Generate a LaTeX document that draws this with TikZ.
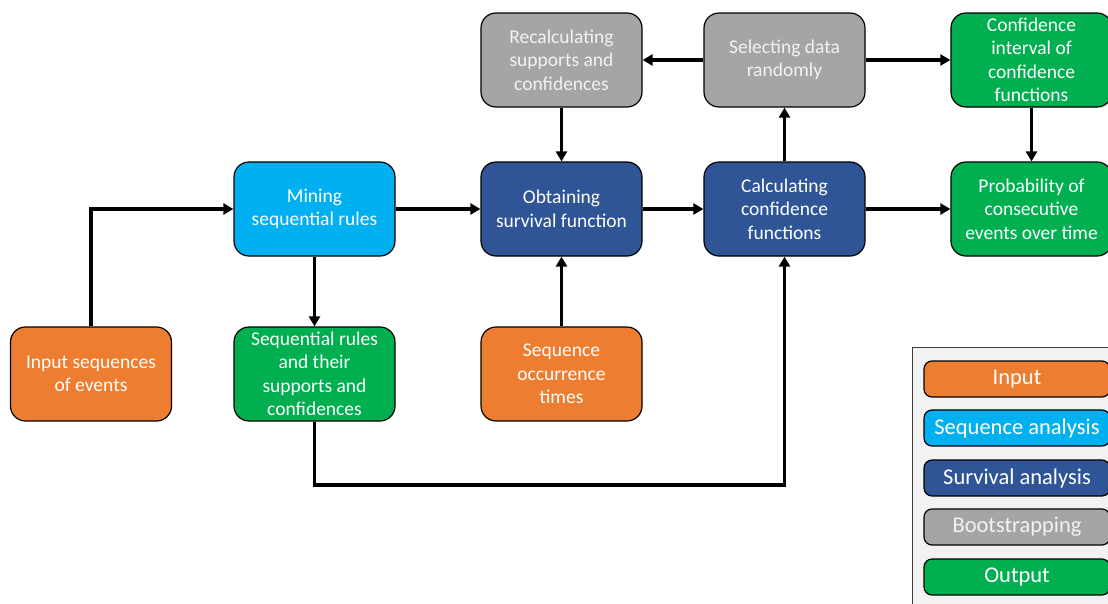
\documentclass[tikz,border=0pt]{standalone}
\usepackage{fontspec}
\setmainfont{Carlito}
\usetikzlibrary{arrows.meta}
\definecolor{cinput}{HTML}{ED7D31}
\definecolor{cseq}{HTML}{00B0F0}
\definecolor{csurv}{HTML}{2F5597}
\definecolor{cboot}{HTML}{A5A5A5}
\definecolor{cout}{HTML}{00B050}
\definecolor{clegend}{HTML}{F2F2F2}
\tikzset{
  box/.style={draw=black, line width=1.2pt, rounded corners=15pt,
    minimum width=161pt, minimum height=94pt, inner sep=0pt,
    text=white, align=center, font=\fontsize{19.5}{23.5}\selectfont},
  legbox/.style={draw=black, line width=1.2pt, rounded corners=8pt,
    minimum width=186pt, minimum height=36pt, inner sep=0pt,
    text=white, align=center, font=\fontsize{22.5}{26}\selectfont},
  flow/.style={line width=3.2pt, -{Triangle[length=10pt,width=11pt]}},
}
\begin{document}
\begin{tikzpicture}[x=1pt,y=-1pt]
\useasboundingbox (0,0) rectangle (1108,603);
\clip (0,0) rectangle (1108,603);

% process boxes
\node[box, fill=cinput] (input) at (91,374) {Input sequences\\of events};
\node[box, fill=cseq] (mining) at (314.5,209) {Mining\\sequential rules};
\node[box, fill=cout] (rules) at (314.5,374) {Sequential rules\\and their\\supports and\\confidences};
\node[box, fill=cboot, text=clegend] (recalc) at (561.5,60) {Recalculating\\supports and\\confidences};
\node[box, fill=csurv] (surv) at (561.5,209) {Obtaining\\survival function};
\node[box, fill=cinput] (times) at (561.5,374) {Sequence\\occurrence\\times};
\node[box, fill=cboot, text=clegend] (select) at (784.5,60) {Selecting data\\randomly};
\node[box, fill=csurv] (conf) at (784.5,209) {Calculating\\confidence\\functions};
\node[box, fill=cout] (interval) at (1031.5,60) {Confidence\\interval of\\confidence\\functions};
\node[box, fill=cout] (prob) at (1031.5,209) {Probability of\\consecutive\\events over time};

% connectors
\draw[flow] (input.north) |- (mining.west);
\draw[flow] (mining.south) -- (rules.north);
\draw[flow] (mining.east) -- (surv.west);
\coordinate (low) at (314.5,485);
\draw[flow] (rules.south) -- (low) -| (conf.south);
\draw[flow] (times.north) -- (surv.south);
\draw[flow] (recalc.south) -- (surv.north);
\draw[flow] (surv.east) -- (conf.west);
\draw[flow] (conf.north) -- (select.south);
\draw[flow] (select.west) -- (recalc.east);
\draw[flow] (select.east) -- (interval.west);
\draw[flow] (interval.south) -- (prob.north);
\draw[flow] (conf.east) -- (prob.west);

% legend
\node[draw=black!75, line width=1pt, fill=clegend, minimum width=220pt,
  minimum height=280pt, anchor=north west, inner sep=0pt] (legend) at (912,347) {};
\node[legbox, fill=cinput] (lin) at (1017,379) {Input};
\node[legbox, fill=cseq] (lseq) at (1017,428) {Sequence analysis};
\node[legbox, fill=csurv] (lsurv) at (1017,478) {Survival analysis};
\node[legbox, fill=cboot, text=clegend] (lboot) at (1017,527) {Bootstrapping};
\node[legbox, fill=cout] (lout) at (1017,577) {Output};
\end{tikzpicture}
\end{document}
